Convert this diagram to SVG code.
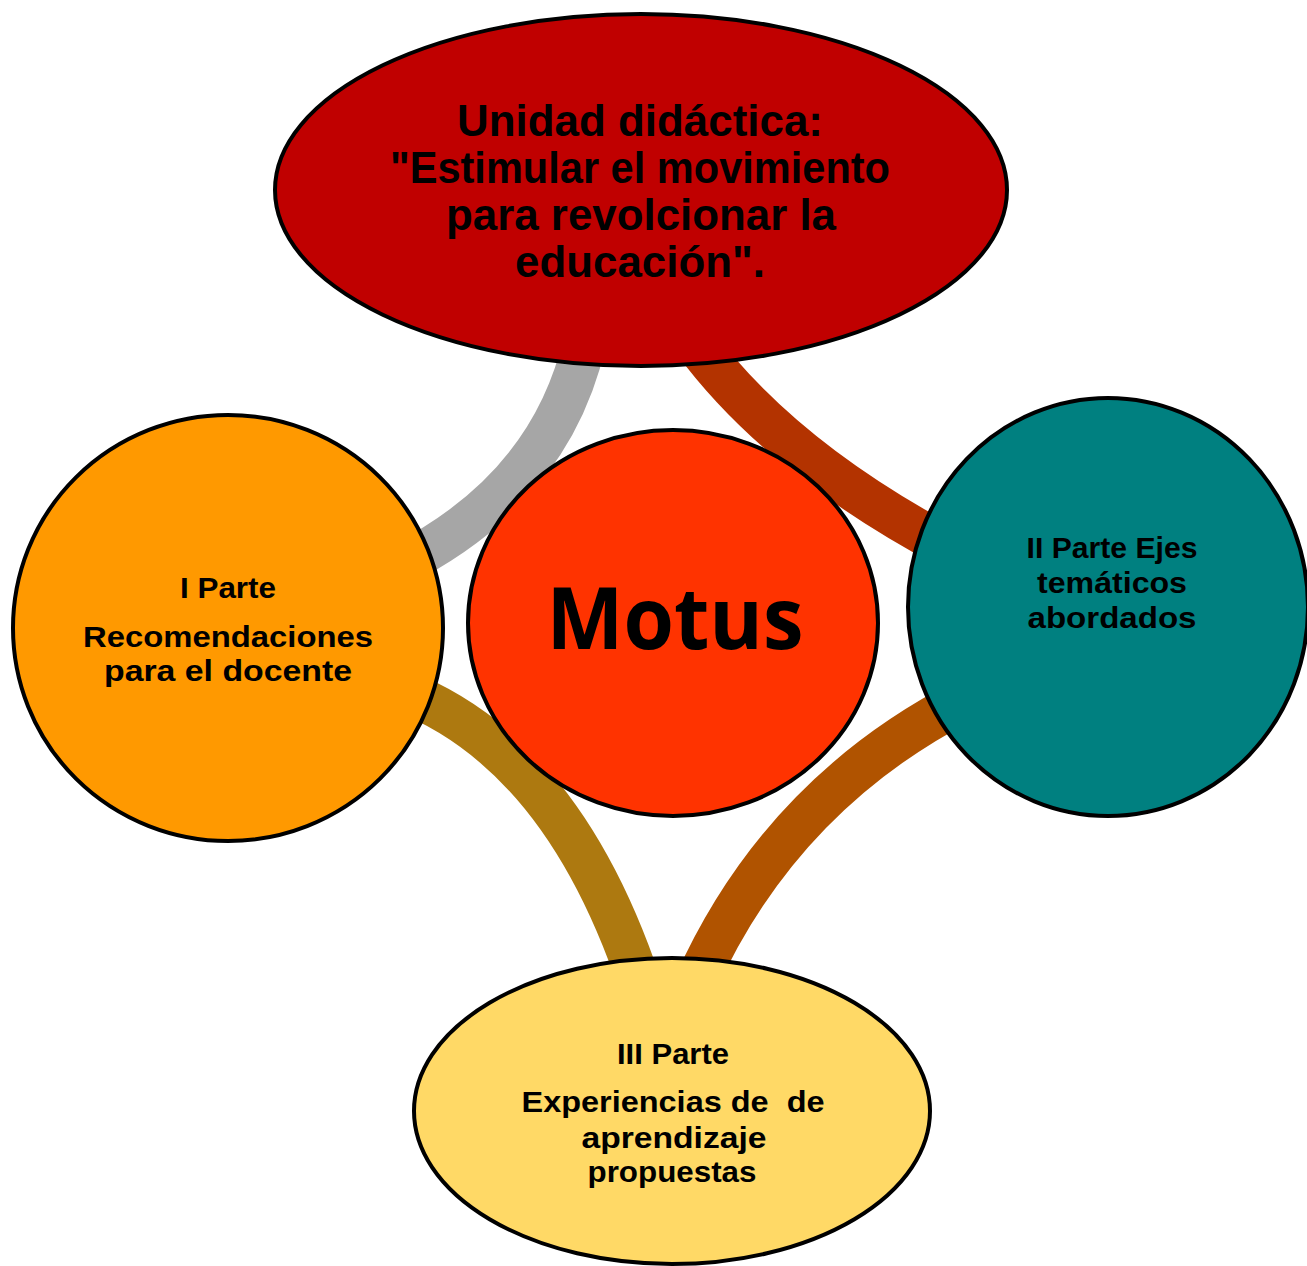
<svg xmlns="http://www.w3.org/2000/svg" width="1307" height="1266" viewBox="0 0 1307 1266">
<style>
.band{fill:none;stroke-width:43;stroke-linecap:butt}
.node{stroke:#000;stroke-width:4}
.t{font-family:"Liberation Sans",Arial,sans-serif;font-weight:bold;fill:#000;text-anchor:middle}
.top{font-size:45px}
.sm{font-size:30px}
.big{font-family:"Open Sans","Noto Sans",sans-serif;font-weight:bold;font-size:86px;fill:#000;text-anchor:middle}
</style>
<rect width="1307" height="1266" fill="#fff"/>
<g id="connectors">
<path class="band" stroke="#A6A6A6" d="M585,340 Q552,488 400,565"/>
<path class="band" stroke="#B33300" d="M693,340 Q780,458 950,548"/>
<path class="band" stroke="#AD7910" d="M400,690 Q562,752 640,985"/>
<path class="band" stroke="#B05300" d="M965,700 Q780,795 695,985"/>
</g>
<g id="node-top">
<ellipse class="node" cx="641" cy="190" rx="366" ry="176" fill="#C00000"/>
<text class="t top" x="640" y="136" textLength="366" lengthAdjust="spacingAndGlyphs">Unidad didáctica:</text>
<text class="t top" x="640" y="183" textLength="500" lengthAdjust="spacingAndGlyphs">"Estimular el movimiento</text>
<text class="t top" x="641" y="230" textLength="390" lengthAdjust="spacingAndGlyphs">para revolcionar la</text>
<text class="t top" x="640" y="277" textLength="250" lengthAdjust="spacingAndGlyphs">educación".</text>
</g>
<g id="node-motus">
<ellipse class="node" cx="673" cy="623" rx="205" ry="193" fill="#FF3300"/>
<text class="big" x="675" y="649" textLength="257" lengthAdjust="spacingAndGlyphs">Motus</text>
</g>
<g id="node-left">
<ellipse class="node" cx="228" cy="628" rx="215" ry="213" fill="#FF9900"/>
<text class="t sm" x="228" y="598" textLength="96" lengthAdjust="spacingAndGlyphs">I Parte</text>
<text class="t sm" x="228" y="647" textLength="290" lengthAdjust="spacingAndGlyphs">Recomendaciones</text>
<text class="t sm" x="228" y="681" textLength="248" lengthAdjust="spacingAndGlyphs">para el docente</text>
</g>
<g id="node-right">
<ellipse class="node" cx="1108" cy="607" rx="200" ry="209" fill="#008080"/>
<text class="t sm" x="1112" y="558" textLength="171" lengthAdjust="spacingAndGlyphs">II Parte Ejes</text>
<text class="t sm" x="1112" y="593" textLength="150" lengthAdjust="spacingAndGlyphs">temáticos</text>
<text class="t sm" x="1112" y="628" textLength="169" lengthAdjust="spacingAndGlyphs">abordados</text>
</g>
<g id="node-bottom">
<ellipse class="node" cx="672" cy="1111" rx="258" ry="153" fill="#FFD966"/>
<text class="t sm" x="673" y="1064" textLength="112" lengthAdjust="spacingAndGlyphs">III Parte</text>
<text class="t sm" x="673" y="1112" textLength="303" lengthAdjust="spacingAndGlyphs" xml:space="preserve" style="white-space:pre">Experiencias de  de</text>
<text class="t sm" x="674" y="1148" textLength="185" lengthAdjust="spacingAndGlyphs">aprendizaje</text>
<text class="t sm" x="672" y="1182" textLength="169" lengthAdjust="spacingAndGlyphs">propuestas</text>
</g>
</svg>
